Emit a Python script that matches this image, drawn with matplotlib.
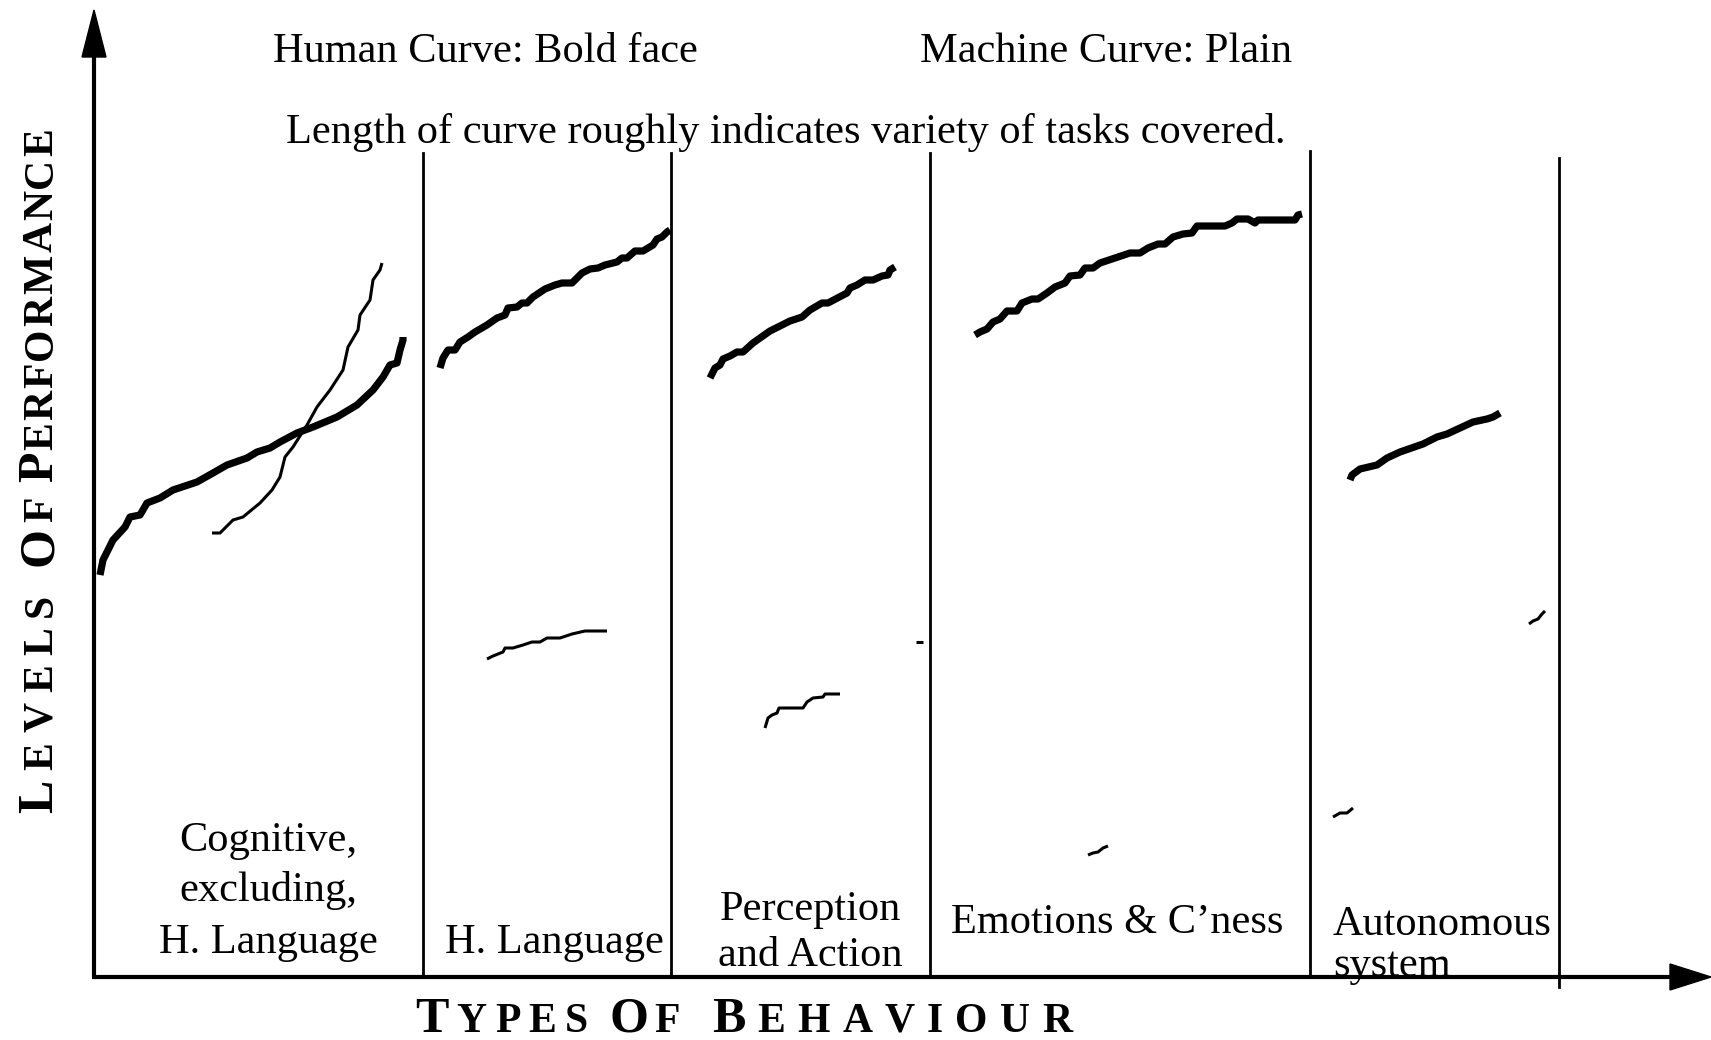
import matplotlib
matplotlib.use("Agg")
import matplotlib.pyplot as plt

SERIF = ["Liberation Serif", "DejaVu Serif"]

# curves (x, y in picture pixels, y grows downwards)
cog_human_x = [100, 103, 113, 125, 130, 140, 147, 160, 173, 197, 213, 227, 247, 257, 270, 280, 297, 313, 337, 357, 373, 383, 390, 397, 400, 403, 403]
cog_human_y = [575, 560, 540, 527, 517, 515, 503, 498, 490, 482, 473, 465, 458, 452, 448, 442, 433, 427, 417, 405, 390, 377, 365, 363, 350, 340, 337]
cog_machine_x = [212, 220, 233, 243, 260, 272, 280, 285, 293, 307, 317, 330, 343, 348, 358, 360, 370, 373, 380, 382]
cog_machine_y = [533, 533, 520, 517, 503, 490, 477, 457, 447, 425, 407, 390, 370, 347, 330, 315, 300, 280, 270, 263]

lang_human_x = [440, 443, 448, 455, 460, 468, 475, 487, 497, 505, 508, 517, 522, 527, 533, 545, 555, 562, 572, 582, 590, 598, 605, 617, 622, 627, 635, 643, 653, 657, 662, 667, 670]
lang_human_y = [368, 358, 350, 350, 342, 337, 332, 325, 318, 315, 308, 307, 303, 303, 297, 289, 285, 283, 283, 273, 269, 268, 265, 262, 258, 258, 251, 251, 245, 239, 237, 232, 230]
lang_machine_x = [487, 493, 498, 503, 505, 513, 523, 532, 540, 547, 560, 572, 585, 607]
lang_machine_y = [659, 656, 654, 652, 648, 648, 645, 642, 642, 638, 638, 634, 631, 631]

perc_human_x = [710, 715, 720, 723, 730, 737, 743, 753, 760, 770, 790, 802, 810, 822, 828, 847, 850, 857, 865, 873, 882, 888, 890, 895]
perc_human_y = [378, 368, 365, 359, 356, 352, 352, 343, 338, 331, 321, 317, 310, 303, 303, 293, 288, 285, 280, 280, 276, 275, 270, 267]
perc_machine_x = [765, 768, 772, 777, 779, 803, 807, 813, 823, 825, 840]
perc_machine_y = [728, 718, 715, 713, 708, 708, 702, 698, 697, 694, 694]
perc_machine2_x = [916, 923]
perc_machine2_y = [642, 642]

emo_human_x = [975, 980, 987, 993, 1000, 1007, 1017, 1022, 1032, 1038, 1047, 1055, 1065, 1070, 1080, 1085, 1093, 1100, 1118, 1130, 1140, 1148, 1158, 1165, 1173, 1183, 1192, 1197, 1225, 1232, 1237, 1248, 1255, 1258, 1295, 1298, 1302]
emo_human_y = [335, 332, 329, 322, 319, 311, 311, 303, 299, 299, 293, 287, 283, 276, 275, 268, 268, 263, 257, 253, 253, 248, 244, 244, 237, 234, 233, 226, 226, 223, 219, 219, 223, 220, 220, 215, 214]
emo_machine_x = [1088, 1093, 1098, 1103, 1108]
emo_machine_y = [855, 853, 852, 848, 846]

auto_human_x = [1350, 1352, 1360, 1377, 1387, 1400, 1423, 1437, 1447, 1460, 1473, 1487, 1493, 1500]
auto_human_y = [480, 475, 469, 465, 458, 452, 444, 437, 434, 428, 422, 419, 417, 413]
auto_machine_x = [1333, 1340, 1347, 1353]
auto_machine_y = [817, 813, 813, 808]
auto_machine2_x = [1529, 1533, 1538, 1542, 1545]
auto_machine2_y = [624, 621, 619, 614, 611]

human_curves = [(cog_human_x, cog_human_y), (lang_human_x, lang_human_y),
                (perc_human_x, perc_human_y), (emo_human_x, emo_human_y),
                (auto_human_x, auto_human_y)]
machine_curves = [(cog_machine_x, cog_machine_y), (lang_machine_x, lang_machine_y),
                  (perc_machine_x, perc_machine_y), (perc_machine2_x, perc_machine2_y),
                  (emo_machine_x, emo_machine_y), (auto_machine_x, auto_machine_y),
                  (auto_machine2_x, auto_machine2_y)]

divider_x = [423, 671, 930, 1310, 1559]
divider_top = [153, 153, 153, 151, 158]
divider_bottom = [977, 977, 977, 977, 987]

fig = plt.figure(figsize=(17.11, 10.4), dpi=100)
ax = fig.add_axes([0, 0, 1, 1])
ax.set_xlim(0, 1711)
ax.set_ylim(1040, 0)
ax.axis("off")

# axes with arrow heads
ax.plot([94, 94], [977, 50], color="black", lw=3, solid_capstyle="butt", zorder=5)
ax.fill([82, 94, 106], [57, 10, 57], color="black", zorder=5)
ax.plot([92, 1675], [977, 977], color="black", lw=3, solid_capstyle="butt", zorder=5)
ax.fill([1670, 1711, 1670], [964, 977, 990], color="black", zorder=5)

for x, t, b in zip(divider_x, divider_top, divider_bottom):
    ax.plot([x, x], [t, b], color="black", lw=2, zorder=4)

for xs, ys in human_curves:
    ax.plot(xs, ys, color="black", lw=5.2, solid_joinstyle="round", solid_capstyle="butt")
for xs, ys in machine_curves:
    ax.plot(xs, ys, color="black", lw=2.2, solid_joinstyle="round", solid_capstyle="butt")

fs = 30.5
ax.text(273, 62, "Human Curve: Bold face", fontsize=fs, family=SERIF, va="baseline")
ax.text(920, 62, "Machine Curve: Plain", fontsize=fs, family=SERIF, va="baseline")
ax.text(286, 143, "Length of curve roughly indicates variety of tasks covered.",
        fontsize=fs, family=SERIF, va="baseline")

for s, yb in zip(["Cognitive,", "excluding,", "H. Language"], [851, 901, 953]):
    ax.text(268, yb, s, fontsize=fs, family=SERIF, ha="center", va="baseline")
ax.text(445, 953, "H. Language", fontsize=fs, family=SERIF, va="baseline")
for s, yb in zip(["Perception", "and Action"], [920, 966]):
    ax.text(810, yb, s, fontsize=fs, family=SERIF, ha="center", va="baseline")
ax.text(951, 933, "Emotions & C\u2019ness", fontsize=fs, family=SERIF, va="baseline")
ax.text(1333, 935, "Autonomous", fontsize=fs, family=SERIF, va="baseline", zorder=3)
ax.text(1333, 976, "system", fontsize=fs, family=SERIF, va="baseline", zorder=3)

# small-caps axis titles, letters spread to fill each word
renderer = fig.canvas.get_renderer()
big, small = 36, 30


def small_caps_word(word, start, end, base, vertical=False):
    items = []
    for i, ch in enumerate(word):
        size = big if i == 0 else small
        if vertical:
            t = ax.text(base, start, ch, fontsize=size, family=SERIF, fontweight="bold",
                        rotation=90, rotation_mode="anchor", ha="left", va="baseline")
            w = t.get_window_extent(renderer).height
        else:
            t = ax.text(start, base, ch, fontsize=size, family=SERIF, fontweight="bold",
                        ha="left", va="baseline")
            w = t.get_window_extent(renderer).width
        items.append((t, w))
    total = sum(w for _, w in items)
    gap = max((abs(end - start) - total) / max(len(word) - 1, 1), 2)
    pos = start
    for t, w in items:
        if vertical:
            t.set_position((base, pos))
            pos -= w + gap
        else:
            t.set_position((pos, base))
            pos += w + gap


for word, a, b in [("TYPES", 415, 588), ("OF", 610, 680), ("BEHAVIOUR", 712, 1072)]:
    small_caps_word(word, a, b, 1032)
for word, a, b in [("LEVELS", 813, 594), ("OF", 566, 497), ("PERFORMANCE", 482, 136)]:
    small_caps_word(word, a, b, 52, vertical=True)

fig.savefig("out.png", dpi=100)
